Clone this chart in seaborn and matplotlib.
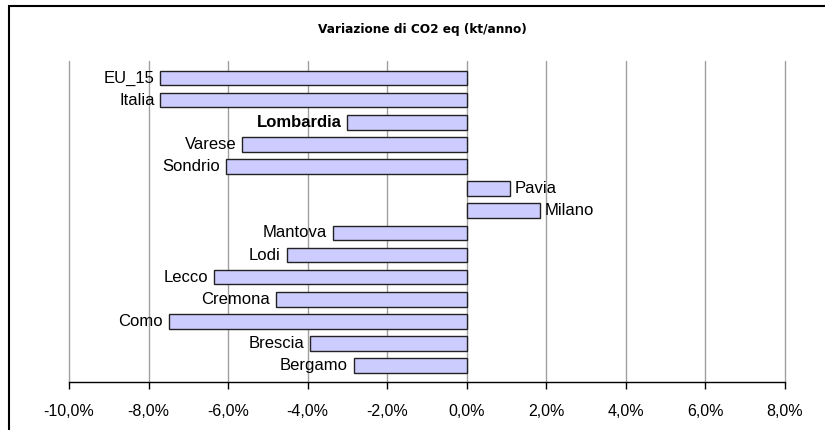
import matplotlib
matplotlib.use('Agg')
import matplotlib.pyplot as plt
import seaborn as sns
import pandas as pd
from matplotlib.patches import Rectangle
from matplotlib.ticker import FuncFormatter

# Variazione di CO2 eq (%)
zone = ['EU_15', 'Italia', 'Lombardia', 'Varese', 'Sondrio', 'Pavia', 'Milano',
        'Mantova', 'Lodi', 'Lecco', 'Cremona', 'Como', 'Brescia', 'Bergamo']
variazione = [-7.7, -7.7, -3.0, -5.65, -6.05, 1.08, 1.83,
              -3.37, -4.53, -6.36, -4.80, -7.49, -3.93, -2.84]
tick_valori = [-10, -8, -6, -4, -2, 0, 2, 4, 6, 8]

df = pd.DataFrame({'zona': zone, 'var': variazione})

sns.set_style('white')
plt.rcParams['font.family'] = ['Liberation Sans', 'DejaVu Sans']

fig = plt.figure(figsize=(8.25, 4.3), dpi=100)
ax = fig.add_axes([69/825, 1 - 382/430, (785-69)/825, (382-61)/430])

sns.barplot(data=df, x='var', y='zona', orient='h', color='#CCCCFF',
            edgecolor='#222222', linewidth=1, width=0.66, saturation=1, ax=ax)

ax.set_xlim(-10, 8)
ax.set_ylim(13 + 0.74, -0.77)
ax.set_xticks(tick_valori)
ax.xaxis.set_major_formatter(FuncFormatter(lambda v, p: f'{v:.1f}%'.replace('.', ',')))
ax.tick_params(axis='x', labelsize=11.5, length=5, width=1, color='black',
               labelcolor='black', direction='out', bottom=True, pad=11)
ax.set_yticks([])
ax.set_xlabel('')
ax.set_ylabel('')
ax.grid(axis='x', color='#a0a0a0', linewidth=1)
for gl in ax.get_xgridlines():
    gl.set_clip_on(False)
ax.set_axisbelow(True)
for s in ['top', 'right', 'left']:
    ax.spines[s].set_visible(False)
ax.spines['bottom'].set_color('black')
ax.spines['bottom'].set_linewidth(1)

for i, (z, v) in enumerate(zip(zone, variazione)):
    peso = 'bold' if z == 'Lombardia' else 'normal'
    if v < 0:
        ax.text(v - 0.15, i, z, ha='right', va='center', fontsize=12,
                fontweight=peso, color='black')
    else:
        ax.text(v + 0.12, i, z, ha='left', va='center', fontsize=12,
                fontweight=peso, color='black')

fig.text(422/825, 1 - 30/430, 'Variazione di CO2 eq (kt/anno)', ha='center', va='center',
         fontsize=8.7, fontweight='bold', family='DejaVu Sans', color='black')

fig.patches.append(Rectangle((9/825, -0.1), 1.2, 1 - 6/430 + 0.1, transform=fig.transFigure,
                             fill=False, edgecolor='black', linewidth=1.5))

fig.savefig('out.png', dpi=100)
